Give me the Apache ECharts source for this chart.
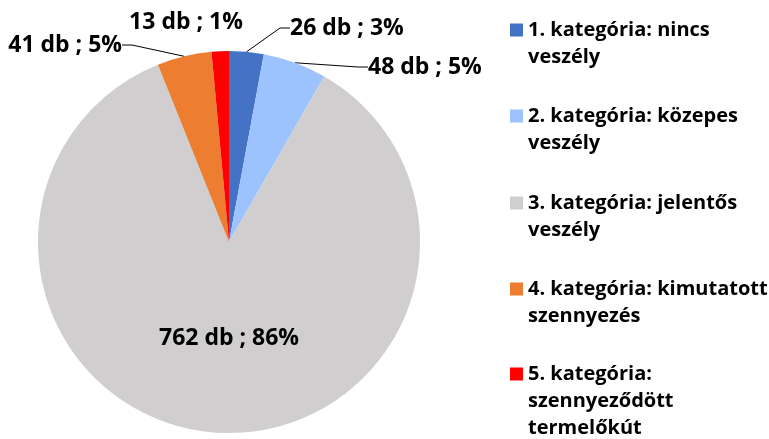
<!DOCTYPE html>
<html>
<head>
<meta charset="utf-8">
<script src="https://cdn.jsdelivr.net/npm/echarts@6/dist/echarts.min.js"></script>
<style>
html,body{margin:0;padding:0;background:#fff;}
#chart{width:769px;height:439px;}
</style>
</head>
<body>
<div id="chart"></div>
<script>
////--------------------------------------------------------------------////
const categories  = ['1. kategória: nincs veszély', '2. kategória: közepes veszély', '3. kategória: jelentős veszély', '4. kategória: kimutatott szennyezés', '5. kategória: szennyeződött termelőkút'];
const legend_text = ['1. kategória: nincs\nveszély', '2. kategória: közepes\nveszély', '3. kategória: jelentős\nveszély', '4. kategória: kimutatott\nszennyezés', '5. kategória:\nszennyeződött\ntermelőkút'];
const counts      = [26, 48, 762, 41, 13];
const percents    = [3, 5, 86, 5, 1];
const colors      = ['#4472C4', '#9DC3FF', '#D0CECE', '#ED7D31', '#FF0000'];
////--------------------------------------------------------------------////
const font_name   = 'Open Sans';
const line_h      = 27;
// label places (x, y, align) for the outside labels, index = slice
const label_place = [
    {x: 290, y: 28, align: 'left'},
    {x: 368, y: 67, align: 'left'},
    null,
    {x: 122, y: 45, align: 'right'},
    {x: 186, y: 22, align: 'center'}
];
const legend_center = [30, 116, 203, 289, 374];
////-------------------////
function legend_build(){
    const list = [];
    for (let index = 0; index < categories.length; index++) {
        const lines = legend_text[index].split('\n').length;
        // blank lines in front so the first line sits next to the square
        const text  = '\n'.repeat(lines-1) + legend_text[index];
        list.push({
            orient: 'vertical',
            left: 510,
            top: legend_center[index] - (2*lines-1)*line_h/2,
            padding: 0,
            itemWidth: 13,
            itemHeight: 13,
            icon: 'rect',
            selectedMode: false,
            data: [categories[index]],
            formatter: () => text,
            textStyle: {
                fontFamily: font_name,
                fontWeight: 'bold',
                fontSize: 20,
                color: '#000',
                lineHeight: line_h
            }
        });
    }
    return list;
}
////-------------------////
const pie_data = [];
for (let index = 0; index < categories.length; index++) {
    const item = {
        name: categories[index],
        value: counts[index],
        itemStyle: {color: colors[index]}
    };
    if(index == 2){
        item.label = {position: 'inside'};
    }
    if(index == 4){
        item.labelLine = {show: false};
    }
    pie_data.push(item);
}
////-------------------////
const option = {
    animation: false,
    backgroundColor: '#fff',
    legend: legend_build(),
    series: [{
        type: 'pie',
        center: [229, 242],
        radius: [0, 191],
        startAngle: 90,
        clockwise: true,
        data: pie_data,
        label: {
            show: true,
            position: 'outside',
            overflow: 'none',
            formatter: (p) => counts[p.dataIndex] + ' db ; ' + percents[p.dataIndex] + '%',
            fontFamily: font_name,
            fontWeight: 'bold',
            fontSize: 23,
            color: '#000'
        },
        labelLine: {
            show: true,
            length: 20,
            length2: 10,
            lineStyle: {color: '#000', width: 1}
        },
        labelLayout: (p) => {
            const place = label_place[p.dataIndex];
            if(place == null) return {dx: 7, dy: -2};
            return {x: place.x, y: place.y, align: place.align, verticalAlign: 'middle'};
        },
        emphasis: {disabled: true}
    }]
};
let chart = echarts.init(document.getElementById('chart'), null, {renderer: 'canvas'});
chart.setOption(option);
window.addEventListener('resize', chart.resize);
</script>
</body>
</html>
